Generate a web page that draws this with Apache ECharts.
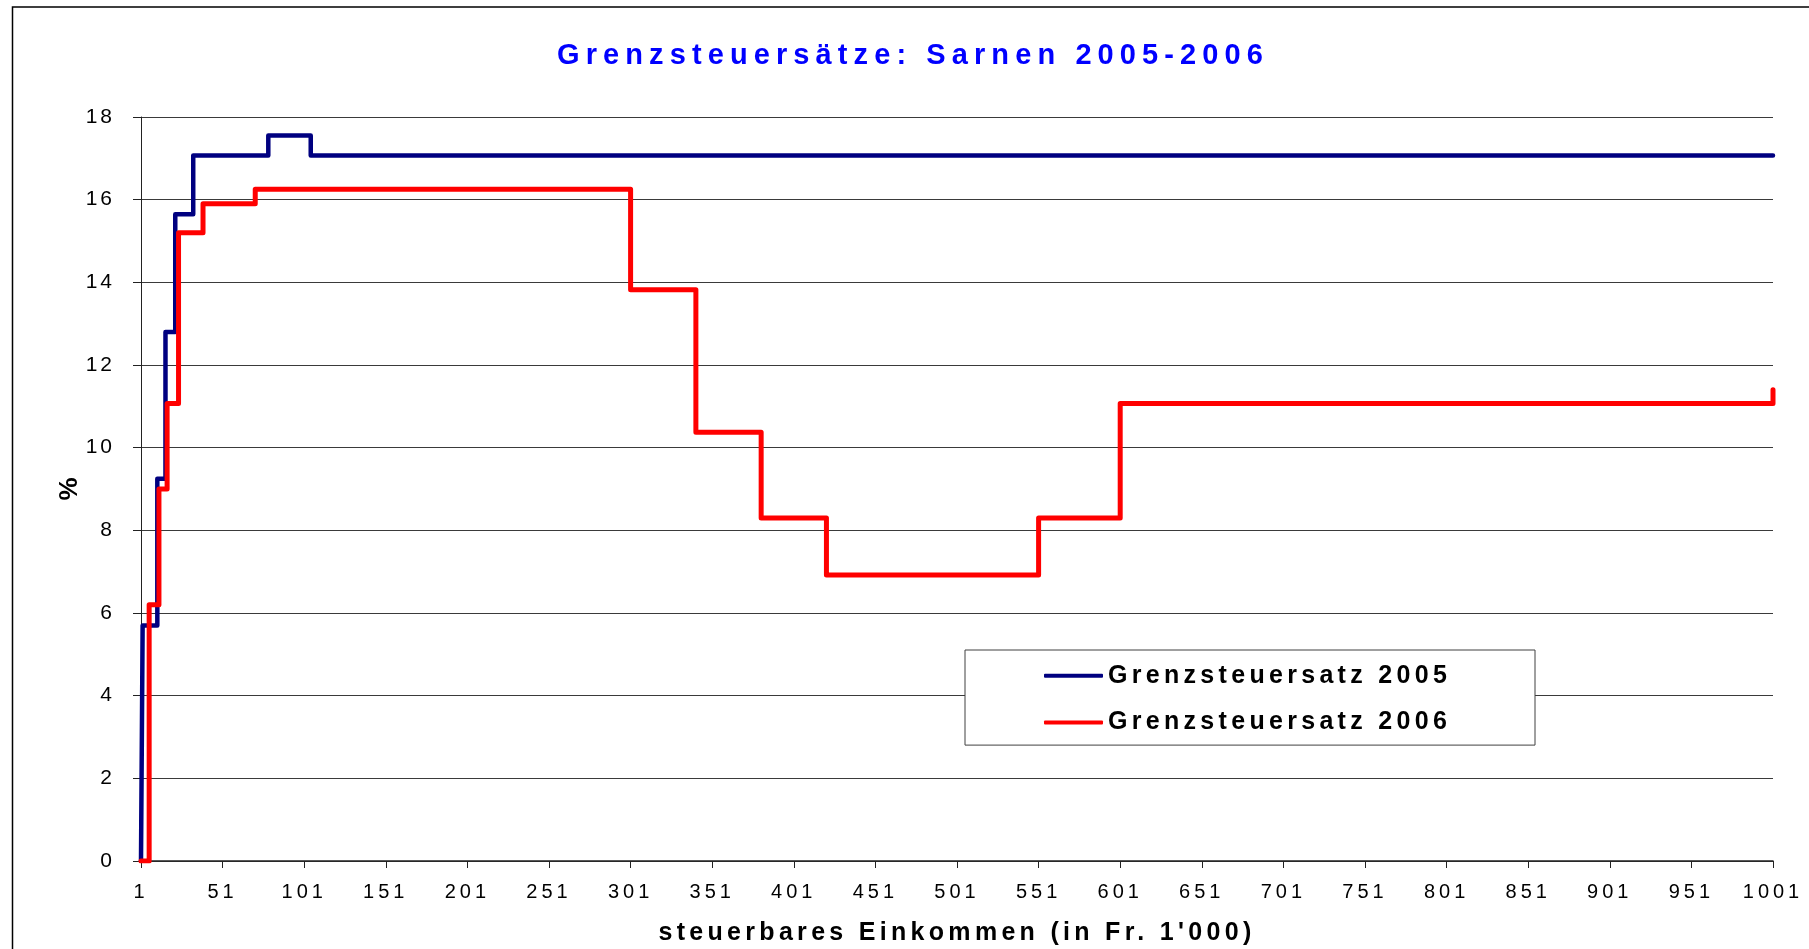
<!DOCTYPE html>
<html><head><meta charset="utf-8">
<script src="https://cdn.jsdelivr.net/npm/echarts@6/dist/echarts.min.js"></script>
<style>html,body{margin:0;padding:0;background:#fff}#c{width:1809px;height:949px}</style>
</head><body><div id="c"></div>
<script>
// ---------- data ----------
const titleText = 'Grenzsteuersätze: Sarnen 2005-2006';
const xAxisName = "steuerbares Einkommen (in Fr. 1'000)";
const yAxisName = '%';
const seriesNames = ['Grenzsteuersatz 2005', 'Grenzsteuersatz 2006'];
// income category (1..1001) where a new marginal rate starts, and that rate (%)
const steps2005X = [1, 2, 11, 16, 22, 33, 79, 105, 1001];
const steps2005Y = [0, 5.7, 9.25, 12.8, 15.65, 17.07, 17.55, 17.07, 17.07];
const steps2006X = [1, 6, 12, 17, 24, 39, 71, 301, 341, 381, 421, 551, 601, 1001];
const steps2006Y = [0, 6.2, 9.0, 11.07, 15.2, 15.9, 16.25, 13.82, 10.37, 8.3, 6.92, 8.3, 11.07, 11.4];
const xTickLabels = ['1','51','101','151','201','251','301','351','401','451','501','551','601','651','701','751','801','851','901','951','1001'];
const yTickLabels = ['0','2','4','6','8','10','12','14','16','18'];

// ---------- letter spacing (Excel-like expanded text) ----------
const NARROW = "'Liberation Sans Narrow', 'Arial Narrow', 'Liberation Sans', Arial, sans-serif";
const REG = "'Liberation Sans', Arial, sans-serif";
(function () {
  const c = document.createElement('canvas').getContext('2d');
  c.font = '28px "Liberation Sans Narrow", monospace';
  const w1 = c.measureText('Grenzsteuer').width;
  c.font = '28px monospace';
  const w2 = c.measureText('Grenzsteuer').width;
  const narrow = Math.abs(w1 - w2) > 0.5;
  const sp = narrow ? {29: 8.8, 25: 6.7, 26: 0, 21: 3, 20: 4} : {29: 6.1, 25: 4.3, 26: 0, 21: 3, 20: 4};
  const proto = CanvasRenderingContext2D.prototype;
  if (!('letterSpacing' in proto)) return;
  const pick = (font) => { const m = /(\d+)px/.exec(font || ''); const s = m ? sp[m[1]] : 0; return (s || 0) + 'px'; };
  const of = proto.fillText, om = proto.measureText;
  proto.fillText = function (t, x, y, mw) { this.letterSpacing = pick(this.font); return mw === undefined ? of.call(this, t, x, y) : of.call(this, t, x, y, mw); };
  proto.measureText = function (t) { this.letterSpacing = pick(this.font); return om.call(this, t); };
})();

const toPairs = (xs, ys) => xs.map((x, i) => [x - 1, ys[i]]);

const chart = echarts.init(document.getElementById('c'), null, {renderer: 'canvas'});
chart.setOption({
  animation: false,
  backgroundColor: '#fff',
  graphic: [{
    type: 'rect', z: -10, silent: true,
    shape: {x: 12.5, y: 7, width: 1900, height: 1000},
    style: {fill: 'none', stroke: '#000', lineWidth: 1.5}
  }],
  title: {
    text: titleText, left: 913, top: 41, textAlign: 'center', padding: 0,
    textStyle: {color: '#0000FF', fontSize: 29, fontWeight: 'bold', fontFamily: NARROW, lineHeight: 29}
  },
  grid: {left: 141, right: 36, top: 117, bottom: 88, containLabel: false, outerBoundsMode: 'none'},
  legend: {
    orient: 'vertical', left: 965, top: 650,
    padding: [11, 67, 8, 79], itemGap: 17.5,
    itemWidth: 59, itemHeight: 4, icon: 'roundRect',
    backgroundColor: '#fff', borderColor: '#404040', borderWidth: 1,
    textStyle: {color: '#000', fontSize: 25, fontWeight: 'bold', fontFamily: NARROW, lineHeight: 25, width: 360, height: 25},
    data: seriesNames, z: 10
  },
  xAxis: {
    type: 'value', min: 0, max: 1000, interval: 50,
    name: xAxisName, nameLocation: 'middle', nameGap: 60, nameMoveOverlap: false,
    nameTextStyle: {color: '#000', fontSize: 25, fontWeight: 'bold', fontFamily: NARROW, lineHeight: 25},
    axisLine: {show: true, onZero: false, lineStyle: {color: '#222', width: 1.5}},
    axisTick: {show: true, length: 7, lineStyle: {color: '#222', width: 1}},
    splitLine: {show: false},
    axisLabel: {margin: 21, color: '#000', fontSize: 20, fontFamily: REG, lineHeight: 20,
      formatter: (v) => xTickLabels[Math.round(v / 50)]}
  },
  yAxis: {
    type: 'value', min: 0, max: 18, interval: 2,
    name: yAxisName, nameLocation: 'middle', nameGap: 58, nameMoveOverlap: false,
    nameTextStyle: {color: '#000', fontSize: 26, fontWeight: 'bold', fontFamily: REG},
    axisLine: {show: true, lineStyle: {color: '#222', width: 1}},
    axisTick: {show: true, length: 8, lineStyle: {color: '#222', width: 1}},
    splitLine: {show: true, lineStyle: {color: '#3a3a3a', width: 1}},
    axisLabel: {margin: 26, color: '#000', fontSize: 21, fontFamily: REG,
      formatter: (v) => yTickLabels[Math.round(v / 2)]}
  },
  series: [
    {name: seriesNames[0], type: 'line', step: 'end', showSymbol: false, symbol: 'none',
      color: '#000080', lineStyle: {color: '#000080', width: 4.5, join: 'round', cap: 'round'},
      data: toPairs(steps2005X, steps2005Y), z: 3},
    {name: seriesNames[1], type: 'line', step: 'end', showSymbol: false, symbol: 'none',
      color: '#FF0000', lineStyle: {color: '#FF0000', width: 5, join: 'round', cap: 'round'},
      data: toPairs(steps2006X, steps2006Y), z: 4}
  ]
});
</script></body></html>
